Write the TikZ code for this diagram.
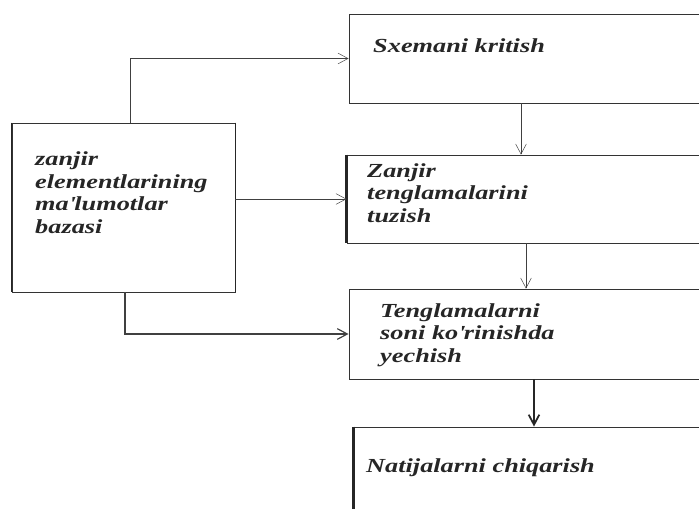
\documentclass[tikz,border=0pt]{standalone}
\usepackage{fontspec}
\setmainfont{Liberation Serif}
\newfontfamily\widefont[FakeStretch=1.32]{Liberation Serif}
\usetikzlibrary{arrows.meta,positioning}
\newdimen\px \px=0.03cm
\tikzset{
  box/.style={draw=black!80,line width=0.8pt,rectangle,inner sep=0pt},
  txt/.style={font=\widefont\bfseries\itshape\fontsize{17}{19.2}\selectfont,align=left,
    inner sep=0pt,anchor=base west,text=black!85},
}
\begin{document}
\begin{tikzpicture}[x=\px,y=-\px,>={Straight Barb[length=3mm,width=3.2mm]}]
  \clip (0,0) rectangle (699,509);
  \useasboundingbox (0,0) rectangle (699,509);
  \fill[white] (0,0) rectangle (699,509);
  \path
  % Database
  (123.5,207.5) node[box,minimum width=223\px,minimum height=169\px] (base) {}
  % Steps
  (529.5,58.5)  node[box,minimum width=361\px,minimum height=89\px]  (sxema) {}
  (528.5,199)   node[box,minimum width=363\px,minimum height=88\px]  (tuzish) {}
  (529.5,334)   node[box,minimum width=361\px,minimum height=90\px]  (yechish) {}
  (532,473.5)   node[box,minimum width=356\px,minimum height=93\px]  (natija) {};

  % Texts (placed on the baseline of their last line)
  \node[txt] (tbase) at (35,233) {zanjir\\elementlarining\\ma\textquotesingle lumotlar\\bazasi};
  \node[txt] (tsxema) at (373,53) {Sxemani kritish};
  \node[txt] (ttuzish) at (367,222) {Zanjir\\tenglamalarini\\tuzish};
  \node[txt] (tyechish) at (380,362) {Tenglamalarni\\soni ko\textquotesingle rinishda\\yechish};
  \node[txt] (tnatija) at (366,472) {Natijalarni chiqarish};

  % Heavier edges
  \draw[line width=1.8pt,black!85] (tuzish.north west) -- (tuzish.south west);
  \draw[line width=1.8pt,black!85] (natija.north west) -- (natija.south west);
  \draw[line width=1.6pt,black!85] (base.north east) -- (base.south east);
  \draw[line width=1.3pt,black!85] (base.north west) -- (base.south west);

  % Links
  \draw[->,black!75] ([xshift=6.5\px]base.north) |- (sxema.west);
  \draw[->,black!75] (base.east |- tuzish.west) -- (tuzish.west);
  \draw[->,black!75,line width=1pt] ([xshift=1.5\px]base.south) |- (yechish.west);
  \draw[->,black!75] ([xshift=-8.5\px]sxema.south) -- ([xshift=-7.5\px]tuzish.north);
  \draw[->,black!75] ([xshift=-2.5\px]tuzish.south) -- ([xshift=-3.5\px]yechish.north);
  \draw[->,black!85,line width=1.5pt] ([xshift=4.5\px]yechish.south) -- ([xshift=2\px]natija.north);
\end{tikzpicture}
\end{document}
